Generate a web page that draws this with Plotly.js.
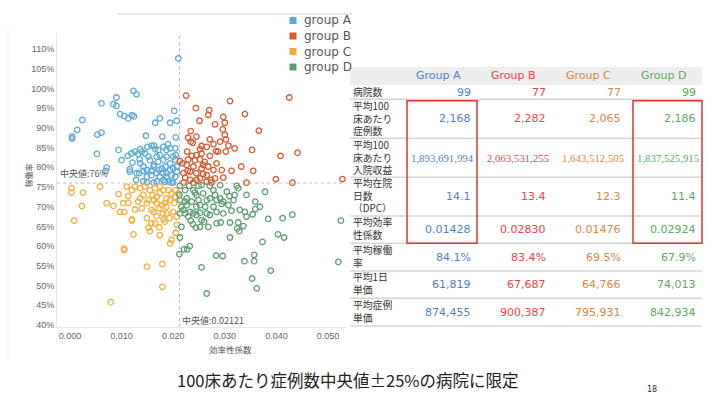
<!DOCTYPE html>
<html><head><meta charset="utf-8">
<script src="https://cdn.plot.ly/plotly-3.0.1.min.js"></script>
<style>html,body{margin:0;padding:0;background:#fff;}#chart{width:718px;height:398px;}</style>
</head><body><div id="chart"></div>
<script>
// ---- scatter data (効率性係数, 稼働率 %) ----
const aX = [.0210,.0123,.0129,.0090,.0061,.0084,.0090,.0097,.0105,.0113,
.0120,.0124,.0024,.0014,.0004,.0004,.0053,.0061,.0052,.0071,
.0069,.0094,.0100,.0112,.0121,.0116,.0116,.0126,.0132,.0139,
.0136,.0145,.0147,.0150,.0158,.0165,.0163,.0165,.0174,.0179,
.0194,.0202,.0207,.0205,.0181,.0190,.0194,.0204,.0205,.0204,
.0155,.0163,.0171,.0181,.0187,.0129,.0134,.0142,.0149,.0158,
.0168,.0173,.0187,.0194,.0200,.0207,.0197,.0187,.0181,.0191,
.0197,.0204,.0207,.0128,.0142,.0162,.0168,.0174,.0180,.0150,
.0149,.0184,.0200,.0168,.0174,.0152,.0185,.0178,.0162,.0136,
.0194,.0142,.0119,.0149,.0158,.0200,.0187,.0171,.0135];
const aY = [107.6,99.4,98.5,97.7,96.2,96.0,95.6,93.5,93.0,92.4,
93.2,92.9,92.0,89.5,87.8,87.3,88.3,88.8,83.4,79.9,
79.1,84.4,81.8,82.9,81.2,79.5,78.9,84.0,83.4,84.0,
84.6,83.5,88.0,85.2,85.5,84.6,85.5,91.3,92.4,87.8,
91.3,94.3,91.8,87.6,85.2,85.9,84.8,84.8,83.1,82.0,
81.8,80.7,81.4,82.0,82.7,78.5,78.5,79.1,79.3,79.1,
78.5,79.3,78.5,79.3,79.7,80.2,78.0,77.6,76.8,76.4,
76.1,77.6,78.9,76.8,76.4,76.1,76.4,77.6,78.5,79.3,
76.2,76.3,76.1,82.7,83.1,82.7,80.2,79.7,80.2,81.0,
81.0,80.2,83.5,77.6,78.0,82.7,84.4,84.4,82.0];
const bX = [.0225,.0310,.0425,.0244,.0270,.0268,.0339,.0251,.0297,.0300,
.0281,.0296,.0234,.0366,.0300,.0229,.0234,.0238,.0271,.0302,
.0307,.0278,.0255,.0227,.0236,.0245,.0255,.0283,.0287,.0302,
.0353,.0408,.0441,.0271,.0229,.0213,.0218,.0226,.0242,.0252,
.0261,.0258,.0268,.0278,.0294,.0313,.0355,.0228,.0233,.0245,
.0258,.0265,.0223,.0233,.0245,.0252,.0273,.0281,.0297,.0342,
.0399,.0431,.0528,.0265,.0239,.0220,.0274,.0255,.0239,.0284,
.0252,.0265,.0291,.0319,.0332,.0245,.0220];
const bY = [98.2,96.8,97.7,95.0,94.5,93.3,93.5,91.8,92.8,91.3,
90.9,89.6,89.2,89.3,88.2,87.5,86.5,86.2,87.1,87.1,
85.5,85.9,85.4,84.0,82.9,83.1,83.5,84.1,84.0,84.0,
84.4,82.9,83.7,82.9,82.0,81.6,81.0,80.6,81.8,82.0,
81.4,80.6,80.2,79.3,79.3,79.1,79.1,79.1,78.9,78.5,
78.3,78.0,77.4,76.8,76.8,77.2,76.8,77.2,77.4,76.1,
77.0,76.1,77.0,76.4,76.1,76.1,76.1,79.7,80.2,81.0,
84.6,85.2,86.5,84.8,80.2,87.8,78.5];
const cX = [.0003,.0003,.0025,.0058,.0023,.0008,.0071,.0084,.0094,.0103,
.0113,.0113,.0120,.0126,.0105,.0120,.0120,.0123,.0105,.0105,
.0132,.0136,.0142,.0149,.0152,.0155,.0162,.0158,.0165,.0163,
.0168,.0174,.0173,.0180,.0178,.0184,.0187,.0181,.0184,.0174,
.0173,.0193,.0200,.0202,.0204,.0207,.0205,.0197,.0194,.0149,
.0179,.0179,.0079,.0191,.0197,.0204,.0187,.0194,.0145,.0155,
.0165,.0174,.0181,.0160,.0168,.0149,.0139,.0126,.0110,.0097,
.0158,.0168,.0187,.0207,.0210,.0152,.0136];
const cY = [74.7,73.6,73.6,75.1,70.2,66.5,70.9,70.2,73.2,70.9,
72.7,71.0,74.2,69.3,68.7,66.8,66.5,63.0,59.4,59.0,
71.3,74.7,73.0,70.9,64.7,63.8,68.7,65.8,65.8,71.7,
72.5,73.4,69.6,68.3,70.4,70.9,70.0,66.8,66.2,62.8,
64.8,67.1,68.7,70.9,72.5,65.4,63.4,61.6,60.7,54.8,
55.5,49.7,45.8,74.2,73.4,74.2,72.1,71.7,75.1,74.2,
74.7,75.1,74.2,73.0,70.9,67.1,69.6,75.1,75.1,68.7,
69.2,67.6,68.3,67.5,73.4,71.7,72.1];
const dX = [.0213,.0223,.0231,.0242,.0249,.0255,.0271,.0291,.0323,.0326,
.0378,.0342,.0212,.0223,.0226,.0216,.0213,.0223,.0233,.0245,
.0249,.0258,.0265,.0271,.0281,.0284,.0291,.0297,.0294,.0309,
.0319,.0307,.0313,.0339,.0359,.0368,.0359,.0354,.0239,.0245,
.0252,.0255,.0260,.0252,.0244,.0238,.0234,.0265,.0271,.0284,
.0292,.0310,.0326,.0324,.0328,.0336,.0384,.0412,.0431,.0525,
.0310,.0213,.0403,.0415,.0373,.0232,.0221,.0227,.0212,.0283,
.0296,.0357,.0357,.0338,.0520,.0255,.0389,.0353,.0362,.0265,
.0226,.0236,.0213,.0220,.0229,.0252,.0262,.0278,.0284,.0297,
.0317,.0329,.0342,.0245,.0268,.0239,.0278,.0304,.0216];
const dY = [75.3,74.2,75.3,73.6,75.3,75.5,75.3,75.5,75.3,74.7,
73.8,73.0,73.0,71.3,70.4,70.0,68.3,68.3,68.7,73.0,
71.7,73.4,71.7,72.1,73.0,71.7,72.1,71.3,70.7,72.7,
73.0,70.4,69.0,68.7,71.3,70.0,69.4,68.1,68.3,67.9,
68.5,66.6,66.2,64.9,64.7,65.6,66.5,68.3,67.9,65.8,
66.0,66.0,66.0,64.5,63.8,65.1,66.9,67.1,68.0,66.5,
62.2,62.2,63.0,62.2,61.1,60.0,59.2,59.2,58.0,57.6,
57.5,57.8,56.2,56.2,56.0,54.6,53.8,51.8,49.3,48.0,
72.1,71.3,71.7,69.2,67.5,70.4,70.0,70.0,68.7,68.3,
71.7,69.2,67.5,70.0,64.9,74.2,74.2,73.8,64.9];

const medianX = 0.02121;
const medianY = 76;
const legendNames = ["group A","group B","group C","group D"];
const xTicks = [0,0.01,0.02,0.03,0.04,0.05];
const xTickText = ["0.000","0.010","0.020","0.030","0.040","0.050"];
const yTicks = [40,45,50,55,60,65,70,75,80,85,90,95,100,105,110];
const yTickText = ["40%","45%","50%","55%","60%","65%","70%","75%","80%","85%","90%","95%","100%","105%","110%"];

// ---- table data ----
const tableGroups = ["Group A","Group B","Group C","Group D"];
const rowLabels = [["病院数"],["平均100","床あたり","症例数"],["平均100","床あたり","入院収益"],["平均在院","日数","（DPC）"],["平均効率","性係数"],["平均稼働","率"],["平均1日","単価"],["平均症例","単価"]];
const valsA = ["99","2,168","1,893,691,994","14.1","0.01428","84.1%","61,819","874,455"];
const valsB = ["77","2,282","2,063,531,255","13.4","0.02830","83.4%","67,687","900,387"];
const valsC = ["77","2,065","1,643,512,505","12.3","0.01476","69.5%","64,766","795,931"];
const valsD = ["99","2,186","1,837,525,915","11.4","0.02924","67.9%","74,013","842,934"];
const footnote = "100床あたり症例数中央値±25%の病院に限定";
const pageNo = "18";

// ---- styling ----
const W = 718, H = 398;
const px = p => p / W, py = p => 1 - p / H;
const markerColors = ["#5aa9d6","#d65a2c","#f7ab3c","#5c9e6f"];
const tableColors = ["#4f7fc8","#f43f45","#d7873f","#5aab5a"];
const sansFont = "DejaVu Sans, Verdana, sans-serif";
const cjkFont = "Noto Sans CJK JP, sans-serif";

const series = [[aX,aY],[bX,bY],[cX,cY],[dX,dY]];
const traces = series.map((s,i) => ({
  type:"scatter", mode:"markers", x:s[0], y:s[1], name:legendNames[i],
  showlegend:false, hoverinfo:"skip",
  marker:{symbol:"circle-open", size:5.5, color:markerColors[i], line:{width:1.3}}
}));

const shapes = [];
const annotations = [];

// median lines
shapes.push({type:"line", xref:"x", yref:"y domain", x0:medianX, x1:medianX, y0:0, y1:1, layer:"below", line:{color:"#bdbdbd", width:1, dash:"3px,3px"}});
shapes.push({type:"line", xref:"x domain", yref:"y", x0:0, x1:1, y0:medianY, y1:medianY, layer:"below", line:{color:"#bdbdbd", width:1, dash:"3px,3px"}});
annotations.push({xref:"paper", yref:"y", x:px(58), y:medianY, xanchor:"left", yanchor:"bottom", yshift:1, text:"中央値:"+medianY+"%", showarrow:false, font:{family:cjkFont, size:9, color:"#555"}});
annotations.push({xref:"x", yref:"paper", x:medianX, y:py(320), xanchor:"left", yanchor:"middle", xshift:1, text:"中央値:"+medianX, showarrow:false, font:{family:cjkFont, size:9, color:"#555"}});

// axis titles
annotations.push({xref:"paper", yref:"paper", x:px(20), y:py(176), text:"稼働率", textangle:-90, showarrow:false, font:{family:cjkFont, size:8, color:"#555"}});
annotations.push({xref:"paper", yref:"paper", x:px(207), y:py(349), yanchor:"middle", text:"効率性係数", showarrow:false, font:{family:cjkFont, size:8.5, color:"#555"}});

// panel frame lines
shapes.push({type:"line", xref:"paper", yref:"paper", x0:px(117), x1:px(352), y0:py(14), y1:py(14), line:{color:"#cfcfcf", width:1}});
shapes.push({type:"line", xref:"paper", yref:"paper", x0:px(8), x1:px(8), y0:py(30), y1:py(358), line:{color:"#eeeeee", width:1}});

// legend
const legY = [20.5, 36, 51.5, 67];
legendNames.forEach((n,i) => {
  shapes.push({type:"rect", xref:"paper", yref:"paper", x0:px(289.5), x1:px(296.5), y0:py(legY[i]+3.5), y1:py(legY[i]-3.5), fillcolor:markerColors[i], line:{width:0}});
  annotations.push({xref:"paper", yref:"paper", x:px(302), y:py(legY[i]), xanchor:"left", yanchor:"middle", text:n, showarrow:false, font:{family:sansFont, size:12, color:"#555"}});
});

// table background cover
shapes.push({type:"rect", xref:"paper", yref:"paper", x0:px(346), x1:px(718), y0:py(62), y1:py(332), fillcolor:"#ffffff", line:{width:0}, layer:"above"});
shapes.push({type:"rect", xref:"paper", yref:"paper", x0:px(350), x1:px(702), y0:py(67), y1:py(85), fillcolor:"#eeeeee", line:{width:0}, layer:"above"});

const rowBounds = [85, 99.3, 138.3, 177.3, 216, 243.3, 271, 298.3, 326];
for (let r = 1; r < rowBounds.length; r++) {
  shapes.push({type:"line", xref:"paper", yref:"paper", x0:px(350), x1:px(702), y0:py(rowBounds[r]), y1:py(rowBounds[r]), layer:"above", line:{color:"#d6d6d6", width:1.5}});
}
// red highlight boxes
shapes.push({type:"rect", xref:"paper", yref:"paper", x0:px(407), x1:px(477), y0:py(100.7), y1:py(243.3), layer:"above", line:{color:"#e2332e", width:1.5}});
shapes.push({type:"rect", xref:"paper", yref:"paper", x0:px(633), x1:px(702), y0:py(100.7), y1:py(243.3), layer:"above", line:{color:"#e2332e", width:1.5}});

const colCenters = [438, 513, 588, 663];
const colRight = [473, 548, 623, 698];
tableGroups.forEach((g,i) => {
  annotations.push({xref:"paper", yref:"paper", x:px(colCenters[i]), y:py(76), xanchor:"center", yanchor:"middle", text:g, showarrow:false, font:{family:sansFont, size:11, color:tableColors[i]}});
});
const allVals = [valsA, valsB, valsC, valsD];
rowLabels.forEach((lines, r) => {
  const top = rowBounds[r], bot = rowBounds[r+1];
  const c = (top + bot) / 2;
  annotations.push({xref:"paper", yref:"paper", x:px(351), y:py(c - (lines.length > 1 ? 0.8 : 0)), xanchor:"left", yanchor:"middle", align:"left",
    text:lines.join("<br>"), showarrow:false, font:{family:cjkFont, size:9.8, color:"#333"}});
  allVals.forEach((vals, i) => {
    const small = r === 2;
    annotations.push({xref:"paper", yref:"paper", x:px(colRight[i] + (small ? 3 : 0)), y:py(c), xanchor:"right", yanchor:"middle", text:vals[r], showarrow:false,
      font:{family: small ? "Liberation Serif, serif" : sansFont, size: small ? 10.8 : 11, color:tableColors[i]}});
  });
});

// footnote & page number
annotations.push({xref:"paper", yref:"paper", x:px(175), y:py(380), xanchor:"left", yanchor:"middle", text:footnote, showarrow:false, font:{family:cjkFont, size:16.5, color:"#222"}});
annotations.push({xref:"paper", yref:"paper", x:px(652), y:py(389), xanchor:"center", yanchor:"middle", text:pageNo, showarrow:false, font:{family:sansFont, size:8, color:"#333"}});

const layout = {
  width:W, height:H, margin:{l:0, r:0, t:0, b:0, pad:0},
  paper_bgcolor:"#ffffff", plot_bgcolor:"#ffffff", showlegend:false,
  xaxis:{domain:[px(57), px(352)], range:[-0.00252, 0.05465], tickmode:"array", tickvals:xTicks, ticktext:xTickText,
    showgrid:false, zeroline:false, showline:true, linecolor:"#e6e6e6", ticks:"",
    tickfont:{family:"Liberation Sans, Arial, sans-serif", size:9, color:"#666"}},
  yaxis:{domain:[py(327), py(33)], range:[39.5, 114.06], tickmode:"array", tickvals:yTicks, ticktext:yTickText,
    showgrid:false, zeroline:false, showline:true, linecolor:"#e6e6e6", ticks:"",
    tickfont:{family:"Liberation Sans, Arial, sans-serif", size:9, color:"#666"}},
  shapes:shapes, annotations:annotations
};
Plotly.newPlot("chart", traces, layout, {staticPlot:true, displayModeBar:false});
</script></body></html>
